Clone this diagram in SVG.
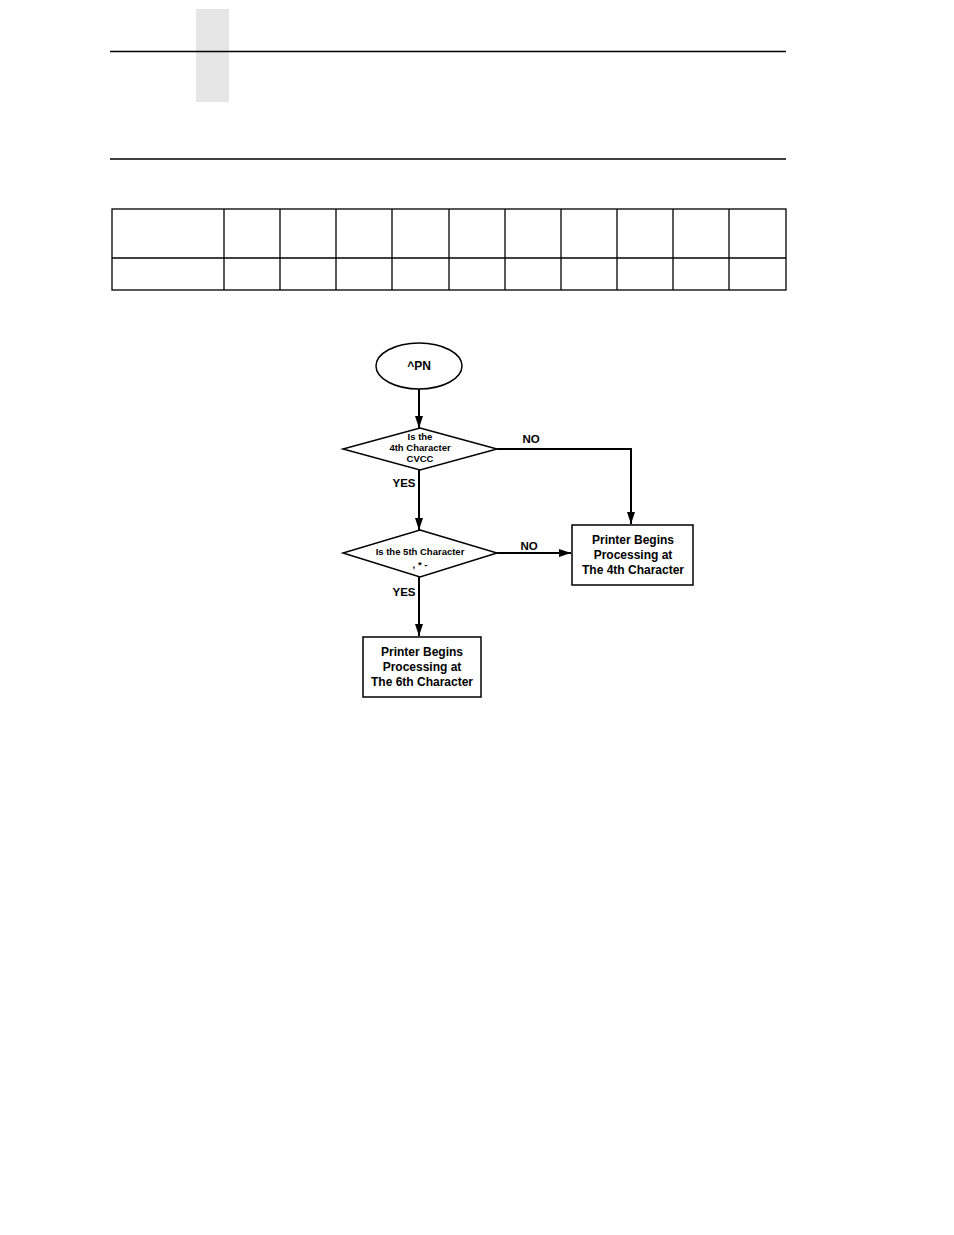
<svg xmlns="http://www.w3.org/2000/svg" width="954" height="1235" viewBox="0 0 954 1235">
<defs>
<marker id="ah" markerWidth="12" markerHeight="8" refX="12" refY="4" orient="auto" markerUnits="userSpaceOnUse">
<path d="M0,0 L12,4 L0,8 z" fill="#000"/>
</marker>
<style>
.ln{stroke:#000;stroke-width:1.3;fill:none}
.sh{stroke:#000;stroke-width:1.5;fill:#fff}
.cn{stroke:#000;stroke-width:2;fill:none}
.t{font-family:"Liberation Sans",Arial,sans-serif;font-weight:bold;fill:#000;text-anchor:middle}
.b{font-size:12px}
.s{font-size:9.5px}
.l{font-size:11.5px}
</style>
</defs>
<rect width="954" height="1235" fill="#fff"/>
<g id="page">
<rect x="196" y="9" width="33" height="93" fill="#e6e6e6"/>
<line class="ln" x1="110" y1="51.5" x2="786" y2="51.5"/>
<line class="ln" x1="110" y1="159" x2="786" y2="159"/>
</g>
<g id="table">
<rect class="ln" x="112" y="209" width="674" height="81"/>
<line class="ln" x1="112" y1="258" x2="786" y2="258"/>
<path class="ln" d="M224,209V290M280,209V290M336,209V290M392,209V290M449,209V290M505,209V290M561,209V290M617,209V290M673,209V290M729,209V290"/>
</g>
<g id="connectors">
<line class="cn" x1="419" y1="389" x2="419" y2="428" marker-end="url(#ah)"/>
<polyline class="cn" points="497,449 631,449 631,524" marker-end="url(#ah)"/>
<line class="cn" x1="419" y1="470" x2="419" y2="530" marker-end="url(#ah)"/>
<line class="cn" x1="497" y1="553" x2="571" y2="553" marker-end="url(#ah)"/>
<line class="cn" x1="419" y1="577" x2="419" y2="636" marker-end="url(#ah)"/>
<text class="t l" x="531" y="443">NO</text>
<text class="t l" x="404" y="487">YES</text>
<text class="t l" x="529" y="550">NO</text>
<text class="t l" x="404" y="596">YES</text>
</g>
<g id="start">
<ellipse class="sh" cx="419" cy="366" rx="43" ry="23"/>
<text class="t b" x="419" y="370">^PN</text>
</g>
<g id="decision1">
<polygon class="sh" points="420,428 497,449 420,470 343,449"/>
<text class="t s" x="420" y="440">Is the</text>
<text class="t s" x="420" y="451">4th Character</text>
<text class="t s" x="420" y="462">CVCC</text>
</g>
<g id="decision2">
<polygon class="sh" points="420,530 497,553 420,577 343,553"/>
<text class="t s" x="420" y="555">Is the 5th Character</text>
<text class="t s" x="420" y="568">, * -</text>
</g>
<g id="box4th">
<rect class="sh" x="572" y="525" width="121" height="60"/>
<text class="t b" x="633" y="544">Printer Begins</text>
<text class="t b" x="633" y="559">Processing at</text>
<text class="t b" x="633" y="574">The 4th Character</text>
</g>
<g id="box6th">
<rect class="sh" x="363" y="637" width="118" height="60"/>
<text class="t b" x="422" y="656">Printer Begins</text>
<text class="t b" x="422" y="671">Processing at</text>
<text class="t b" x="422" y="686">The 6th Character</text>
</g>
</svg>
